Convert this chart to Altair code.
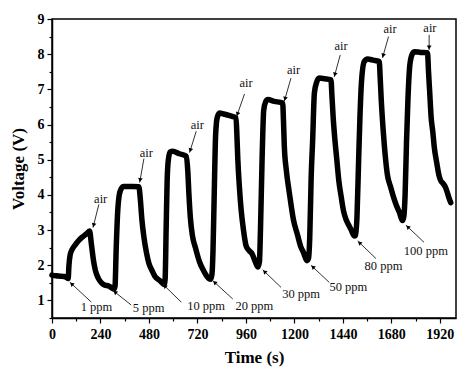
import math
import altair as alt
import pandas as pd

# ---- main response curve (time in s, voltage in V) ----
time_s = [0, 20, 40, 60, 75,
          80, 84, 90, 100, 115, 130, 150, 170, 186,
          195, 205, 215, 230, 245, 260, 280, 295, 307,
          312, 318, 325, 333, 343, 355, 400, 430,
          437, 445, 455, 468, 480, 495, 510, 530, 545, 555,
          560, 565, 570, 576, 585, 598, 630, 665,
          672, 678, 685, 695, 710, 730, 750, 765, 785,
          792, 797, 803, 810, 818, 829, 850, 880, 911,
          916, 920, 928, 936, 948, 961, 975, 990, 1005, 1020,
          1027, 1032, 1040, 1048, 1058, 1068, 1100, 1142,
          1146, 1150, 1160, 1175, 1195, 1216, 1230, 1245, 1262,
          1270, 1276, 1283, 1290, 1299, 1310, 1323, 1350, 1381,
          1386, 1392, 1400, 1410, 1420, 1431, 1443, 1455, 1468, 1480, 1496,
          1503, 1510, 1518, 1525, 1532, 1546, 1562, 1590, 1620,
          1625, 1630, 1640, 1650, 1661, 1675, 1690, 1705, 1720, 1735,
          1742, 1748, 1755, 1762, 1770, 1780, 1793, 1825, 1859,
          1864, 1870, 1877, 1885, 1892, 1905, 1916, 1925, 1935, 1945, 1958, 1966, 1974]
voltage = [1.72, 1.70, 1.69, 1.68, 1.64,
           1.62, 2.00, 2.30, 2.45, 2.58, 2.69, 2.80, 2.89, 2.97,
           2.60, 2.15, 1.85, 1.62, 1.50, 1.44, 1.41, 1.36, 1.32,
           1.40, 2.50, 3.50, 4.00, 4.18, 4.24, 4.24, 4.23,
           3.90, 3.30, 2.80, 2.35, 2.05, 1.85, 1.68, 1.58, 1.50, 1.45,
           1.60, 3.00, 4.40, 5.00, 5.22, 5.24, 5.17, 5.10,
           4.70, 4.00, 3.35, 2.85, 2.50, 2.10, 1.85, 1.70, 1.60,
           1.75, 2.40, 4.00, 5.70, 6.20, 6.33, 6.30, 6.25, 6.19,
           5.60, 5.00, 4.20, 3.60, 3.00, 2.55, 2.42, 2.33, 2.12, 1.95,
           2.10, 3.00, 5.00, 6.40, 6.65, 6.71, 6.66, 6.61,
           6.10, 5.40, 4.70, 4.06, 3.30, 2.85, 2.55, 2.36, 2.13,
           2.20, 2.80, 4.50, 5.50, 6.90, 7.20, 7.32, 7.30, 7.27,
           6.80, 6.20, 5.60, 5.00, 4.40, 3.97, 3.55, 3.31, 3.15, 3.02, 2.83,
           2.85, 3.40, 5.00, 6.30, 7.20, 7.79, 7.86, 7.83, 7.79,
           7.30, 6.70, 5.80, 5.10, 4.55, 4.25, 3.95, 3.70, 3.50, 3.27,
           3.40, 4.00, 5.50, 6.70, 7.60, 7.95, 8.07, 8.05, 8.04,
           7.50, 6.90, 6.20, 5.80, 5.38, 4.90, 4.55, 4.40, 4.33, 4.25, 4.05, 3.90, 3.78]

# ---- "air" annotations ----
air_text = ["air"] * 8
air_text_t = [241, 467, 719, 961, 1196, 1431, 1674, 1871]
air_text_v = [3.87, 5.19, 6.00, 7.18, 7.56, 8.22, 8.71, 8.75]
air_from_t = [232, 455, 714, 953, 1183, 1427, 1666, 1867]
air_from_v = [3.73, 5.03, 5.81, 6.87, 7.32, 7.98, 8.50, 8.55]
air_to_t = [203, 434, 681, 914, 1150, 1397, 1636, 1867]
air_to_v = [3.07, 4.35, 5.20, 6.23, 6.66, 7.35, 7.89, 8.12]

# ---- concentration annotations ----
ppm_text = ["1 ppm", "5 ppm", "10 ppm", "20 ppm", "30 ppm", "50 ppm", "80 ppm", "100 ppm"]
ppm_text_t = [220, 478, 763, 1002, 1233, 1467, 1641, 1851]
ppm_text_v = [0.80, 0.78, 0.85, 0.85, 1.18, 1.37, 1.97, 2.41]
ppm_from_t = [195, 392, 640, 895, 1134, 1373, 1604, 1842]
ppm_from_v = [0.95, 0.87, 0.95, 1.04, 1.37, 1.51, 2.19, 2.65]
ppm_to_t = [88, 302, 549, 796, 1043, 1282, 1513, 1752]
ppm_to_v = [1.52, 1.28, 1.46, 1.56, 1.87, 2.00, 2.69, 3.14]

# ---- tick values ----
x_ticks = list(range(0, 2000, 120))
y_ticks = [0.5 * i for i in range(1, 19)]

X_DOMAIN = [0, 2000]
Y_DOMAIN = [0.5, 9]
W, H = 404, 299
PX_X = W / (X_DOMAIN[1] - X_DOMAIN[0])
PX_Y = H / (Y_DOMAIN[1] - Y_DOMAIN[0])
FONT = "Liberation Serif"

curve = pd.DataFrame({"t": time_s, "v": voltage})
texts = pd.DataFrame({
    "t": air_text_t + ppm_text_t,
    "v": air_text_v + ppm_text_v,
    "label": air_text + ppm_text,
})
arrows = pd.DataFrame({
    "t0": air_from_t + ppm_from_t,
    "v0": air_from_v + ppm_from_v,
    "t1": air_to_t + ppm_to_t,
    "v1": air_to_v + ppm_to_v,
})


def head(row):
    dx = (row.t1 - row.t0) * PX_X
    dy = -(row.v1 - row.v0) * PX_Y
    L = math.hypot(dx, dy)
    ux, uy = dx / L, dy / L
    ang = math.degrees(math.atan2(ux, -uy)) % 360
    back = 2.5
    return pd.Series({"ht": row.t1 - ux * back / PX_X,
                      "hv": row.v1 + uy * back / PX_Y,
                      "ang": ang})


arrows = pd.concat([arrows, arrows.apply(head, axis=1)], axis=1)

xs = alt.Scale(domain=X_DOMAIN, nice=False, zero=False)
ys = alt.Scale(domain=Y_DOMAIN, nice=False, zero=False)

x_axis = alt.Axis(
    values=x_ticks,
    labelExpr="datum.value % 240 === 0 ? toString(datum.value) : ''",
    title="Time (s)", titleFont=FONT, titleFontSize=17, titleFontWeight="bold",
    titlePadding=8, labelFont=FONT, labelFontSize=14, labelFontWeight="bold",
    labelColor="black", titleColor="black", labelPadding=4, labelFlush=False,
    labelOverlap=False, grid=False, domainColor="black", domainWidth=1.5,
    tickColor="black", tickWidth=1.2,
    tickSize={"condition": {"test": "datum.value % 240 === 0", "value": 5}, "value": 3},
)
y_axis = alt.Axis(
    values=y_ticks,
    labelExpr="round(datum.value) === datum.value ? toString(datum.value) : ''",
    title="Voltage (V)", titleFont=FONT, titleFontSize=17, titleFontWeight="bold",
    titlePadding=10, labelFont=FONT, labelFontSize=14, labelFontWeight="bold",
    labelColor="black", titleColor="black", labelPadding=3, labelFlush=False,
    labelOverlap=False, grid=False, domainColor="black", domainWidth=1.5,
    tickColor="black", tickWidth=1.2,
    tickSize={"condition": {"test": "round(datum.value) === datum.value", "value": 5}, "value": 3},
)

line = alt.Chart(curve).mark_line(
    color="black", strokeWidth=5.5, strokeCap="round", strokeJoin="round",
    interpolate="monotone",
).encode(
    x=alt.X("t:Q", scale=xs, axis=x_axis),
    y=alt.Y("v:Q", scale=ys, axis=y_axis),
)

rules = alt.Chart(arrows).mark_rule(color="#333333", strokeWidth=1).encode(
    x=alt.X("t0:Q", scale=xs, axis=x_axis),
    y=alt.Y("v0:Q", scale=ys, axis=y_axis),
    x2="t1:Q", y2="v1:Q",
)

heads = alt.Chart(arrows).mark_point(
    shape="triangle-up", filled=True, size=22, color="black", opacity=1,
).encode(
    x=alt.X("ht:Q", scale=xs, axis=x_axis),
    y=alt.Y("hv:Q", scale=ys, axis=y_axis),
    angle=alt.Angle("ang:Q", scale=None),
)

labels = alt.Chart(texts).mark_text(
    font=FONT, fontSize=12.5, color="#111111", baseline="middle", align="center",
).encode(
    x=alt.X("t:Q", scale=xs, axis=x_axis),
    y=alt.Y("v:Q", scale=ys, axis=y_axis),
    text="label:N",
)

chart = alt.layer(line, rules, heads, labels).properties(
    width=W, height=H,
    autosize=alt.AutoSizeParams(type="none"),
    padding={"left": 52, "top": 19, "right": 18, "bottom": 59},
    background="white",
).configure_view(stroke="black", strokeWidth=1.5)

chart.save("out.html", embed_options={"renderer": "svg", "actions": False})
